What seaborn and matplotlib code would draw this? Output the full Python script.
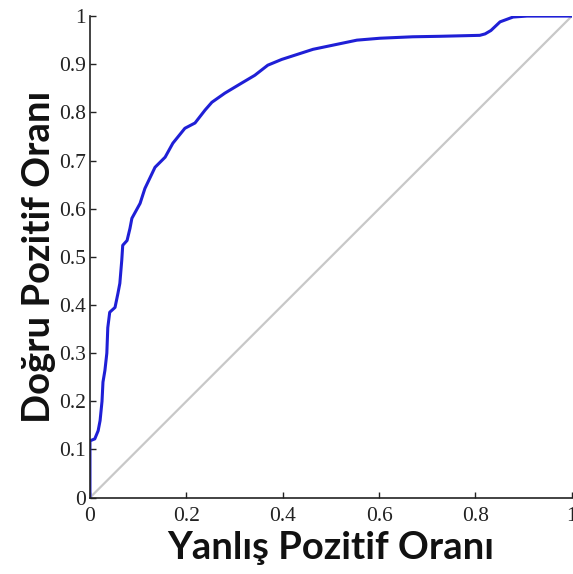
import matplotlib
matplotlib.use("Agg")
import matplotlib.pyplot as plt
import seaborn as sns
import pandas as pd

fpr = [0.0, 0.0, 0.010, 0.017, 0.021, 0.025, 0.027, 0.031, 0.035, 0.037, 0.041,
       0.052, 0.058, 0.062, 0.066, 0.068, 0.077, 0.083, 0.087, 0.104, 0.114,
       0.135, 0.156, 0.172, 0.197, 0.218, 0.239, 0.253, 0.280, 0.315, 0.342,
       0.369, 0.398, 0.463, 0.554, 0.602, 0.670, 0.726, 0.809, 0.820, 0.832,
       0.851, 0.878, 0.907, 1.0]
tpr = [0.0, 0.118, 0.122, 0.139, 0.160, 0.200, 0.240, 0.264, 0.300, 0.353, 0.385,
       0.395, 0.424, 0.445, 0.493, 0.524, 0.534, 0.559, 0.580, 0.611, 0.642,
       0.686, 0.707, 0.736, 0.767, 0.778, 0.805, 0.821, 0.840, 0.861, 0.877,
       0.898, 0.910, 0.931, 0.950, 0.954, 0.957, 0.958, 0.960, 0.963, 0.970,
       0.988, 0.998, 1.0, 1.0]
diag = [0.0, 1.0]
ticks = [0, 0.2, 0.4, 0.6, 0.8, 1]
yticks = [0, 0.1, 0.2, 0.3, 0.4, 0.5, 0.6, 0.7, 0.8, 0.9, 1]
xlabel = "Yanlış Pozitif Oranı"
ylabel = "Doğru Pozitif Oranı"

sns.set_style("white")
fig = plt.figure(figsize=(5.73, 5.74), dpi=100)
ax = fig.add_axes([0.157, 0.133, 0.841, 0.839])

sns.lineplot(x=diag, y=diag, ax=ax, color="#c8c8c8", linewidth=1.6)
df = pd.DataFrame({"fpr": fpr, "tpr": tpr})
sns.lineplot(data=df, x="fpr", y="tpr", ax=ax, color="#1f1fd6", linewidth=2.2,
             sort=False, estimator=None)

ax.set_xlim(0, 1)
ax.set_ylim(0, 1)
ax.set_xticks(ticks)
ax.set_xticklabels(["0", "0.2", "0.4", "0.6", "0.8", "1"])
ax.set_yticks(yticks)
ax.set_yticklabels(["0", "0.1", "0.2", "0.3", "0.4", "0.5", "0.6", "0.7", "0.8", "0.9", "1"])
for sp in ["top", "right"]:
    ax.spines[sp].set_visible(False)
for sp in ["left", "bottom"]:
    ax.spines[sp].set_color("#222222")
    ax.spines[sp].set_linewidth(1.2)
ax.tick_params(direction="in", length=4, width=1, colors="#222222", left=True, bottom=True,
               labelsize=15.5, pad=3)
ax.tick_params(axis="x", pad=7)
for lab in ax.get_xticklabels() + ax.get_yticklabels():
    lab.set_fontfamily("Liberation Serif")
    lab.set_color("#222222")

ax.set_xlabel(xlabel, fontfamily="Lato", fontweight="bold", fontsize=27.5, color="#111111", labelpad=3)
ax.set_ylabel(ylabel, fontfamily="Lato", fontweight="bold", fontsize=27.5, color="#111111", labelpad=2)
ax.grid(False)

fig.savefig("out.png", dpi=100)
